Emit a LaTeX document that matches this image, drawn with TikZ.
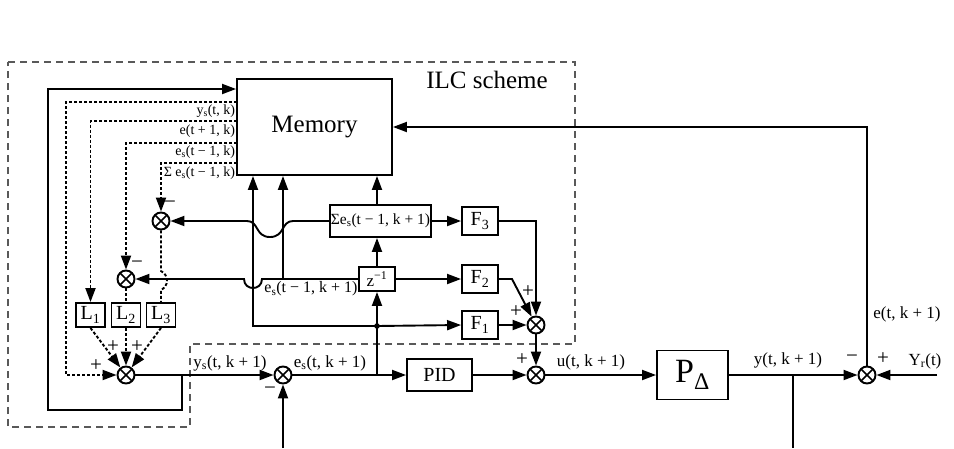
\documentclass[tikz,border=0pt]{standalone}
\usepackage{fontspec}
\setmainfont{Liberation Serif}
\usetikzlibrary{arrows.meta,calc}
\newcommand{\sbs}[1]{\textsubscript{#1}}
\begin{document}
\begin{tikzpicture}[x=1pt,y=-1pt,line width=1.9pt,
  >={Triangle[length=14pt,width=10pt]},
  blk/.style={draw,rectangle,inner sep=0pt,font=\fontsize{20}{20}\selectfont},
  sumn/.style={circle,draw,minimum size=17pt,inner sep=0pt,
    path picture={\draw[line width=1.5pt] (path picture bounding box.south west)--(path picture bounding box.north east)
      (path picture bounding box.north west)--(path picture bounding box.south east);}},
  dsh/.style={dash pattern=on 3pt off 2pt},
  lbl/.style={font=\fontsize{14}{14}\selectfont,inner sep=0pt},
  mlbl/.style={font=\fontsize{17}{17}\selectfont,inner sep=0pt},
  sgn/.style={font=\fontsize{21}{21}\selectfont,inner sep=0pt}]
\useasboundingbox[fill=white] (0,0) rectangle (954,448);
% ILC boundary
\draw[gray!70!black,line width=1.3pt,dash pattern=on 7pt off 5pt]
  (8,62) -- (575,62) -- (575,344) -- (190,344) -- (190,427) -- (8,427) -- cycle;
\node[font=\fontsize{25}{25}\selectfont,inner sep=0pt] (ilc) at (487,80) {ILC scheme};
% blocks
\node[blk,minimum width=155pt,minimum height=96pt,font=\fontsize{25}{25}\selectfont] (mem) at (314.5,127) {Memory};
\node[blk,minimum width=101pt,minimum height=32pt,font=\fontsize{15.5}{15.5}\selectfont] (sig) at (380.5,221) {Σe\sbs{s}(t − 1, k + 1)};
\node[blk,minimum width=36pt,minimum height=24pt,font=\fontsize{17}{17}\selectfont] (z) at (377,279) {z\textsuperscript{−1}};
\node[blk,minimum width=36pt,minimum height=28pt] (F3) at (480,221) {F\sbs{3}};
\node[blk,minimum width=36pt,minimum height=28pt] (F2) at (480,279) {F\sbs{2}};
\node[blk,minimum width=36pt,minimum height=28pt] (F1) at (480,325) {F\sbs{1}};
\node[blk,minimum width=29pt,minimum height=24pt] (L1) at (90.5,315) {L\sbs{1}};
\node[blk,minimum width=29pt,minimum height=24pt] (L2) at (126,315) {L\sbs{2}};
\node[blk,minimum width=29pt,minimum height=24pt] (L3) at (161,315) {L\sbs{3}};
\node[blk,minimum width=65pt,minimum height=32pt,font=\fontsize{20}{20}\selectfont] (PID) at (439.5,375) {PID};
\node[blk,minimum width=71pt,minimum height=49pt,font=\fontsize{34}{34}\selectfont] (P) at (692.5,375) {P\sbs{Δ}};
% sums
\node[sumn] (sL) at (126,375) {};
\node[sumn] (s2) at (126,279) {};
\node[sumn] (s3) at (161,221) {};
\node[sumn] (sy) at (283,375) {};
\node[sumn] (sF) at (536,325) {};
\node[sumn] (su) at (536,375) {};
\node[sumn] (se) at (867,375) {};
% dashed signals from memory
\draw[dsh,->] (237,102) -- (66,102) |- (sL.west);
\draw[dsh,->] (237,121) -| (L1.north);
\draw[dsh,->] (237,143) -| (s2.north);
\draw[dsh,->] (237,163) -| (s3.north);
\draw[dsh] (s2.south) -- (L2.north);
\draw[dsh] (s3.south) -- (161,271) .. controls (169,275) and (169,286) .. (161,290) -- (L3.north);
\draw[dsh,->] (L1.south) -- (sL);
\draw[dsh,->] (L2.south) -- (sL.north);
\draw[dsh,->] (L3.south) -- (sL);
% solid connections
\coordinate (br) at (182,375);
\draw[->] (sL.east) -- (sy.west);
\draw[->] (br) -- (182,410) -- (48,410) -- (48,89) -- (mem.west |- 0,89);
\draw[->] (sy.east) -- (PID.west);
\coordinate (jz) at (377,375);
\coordinate (dot) at (377,326);
\draw[->] (jz) -- (dot) -- (z.south);
\fill (dot) circle (2.8pt);
\draw[->] (dot) -- (F1.west);
\draw[->] (dot) -| (mem.south -| 253,0);
\draw[->] (z.north) -- (sig.south -| z.north);
\draw[->] (sig.north -| z.north) -- (mem.south -| z.north);
\draw[->] (sig.east) -- (F3.west);
\draw[->] (z.east) -- (F2.west);
\draw[->] (F3.east) -| (sF.north);
\draw[->] (F2.east) -- (512,279) -- (sF);
\draw[->] (F1.east) -- (sF.west);
\draw[->] (sF.south) -- (su.north);
\draw[->] (PID.east) -- (su.west);
\draw[->] (su.east) -- (P.west);
\draw[->] (P.east) -- (se.west);
\coordinate (yr) at (937,375);
\draw[->] (yr) -- (se.east);
\draw[->] (se.north) |- (mem.east);
\coordinate (yb) at (793,375);
\coordinate (ybot) at (793,448);
\draw (yb) -- (ybot);
\coordinate (sbot) at (283,448);
\draw[->] (sbot) -- (sy.south);
% hops
\draw[->] (sig.west) -- (293,221) .. controls (281,221) and (285,237) .. (270,237)
  .. controls (255,237) and (259,221) .. (247,221) -- (s3.east);
\draw[->] (z.west) -- (262,279) .. controls (262,291) and (244,291) .. (244,279) -- (s2.east);
\draw[->] (283,279) -- (mem.south -| 283,0);
% labels
\node[lbl,anchor=east] (l1) at (236,111) {y\sbs{s}(t, k)};
\node[lbl,anchor=east] (l2) at (236,131) {e(t + 1, k)};
\node[lbl,anchor=east] (l3) at (236,152) {e\sbs{s}(t − 1, k)};
\node[lbl,anchor=east] (l4) at (236,173) {Σ e\sbs{s}(t − 1, k)};
\node[mlbl] (l5) at (230,363) {y\sbs{s}(t, k + 1)};
\node[mlbl] (l6) at (330,363) {e\sbs{s}(t, k + 1)};
\node[lbl,font=\fontsize{16}{16}\selectfont] (l7) at (311,289) {e\sbs{s}(t − 1, k + 1)};
\node[mlbl] (l8) at (591,362) {u(t, k + 1)};
\node[mlbl] (l9) at (788,360) {y(t, k + 1)};
\node[mlbl] (l10) at (907,314) {e(t, k + 1)};
\node[mlbl] (l11) at (925,361) {Y\sbs{r}(t)};
% signs
\node[sgn] (g1) at (852,359) {−};
\node[sgn] (g2) at (883,359) {+};
\node[sgn] (g3) at (270,391) {−};
\node[sgn] (g4) at (522,360) {+};
\node[sgn] (g5) at (516,312) {+};
\node[sgn] (g6) at (528,292) {+};
\node[sgn] (g7) at (96,366) {+};
\node[sgn] (g8) at (113,347) {+};
\node[sgn] (g9) at (137,347) {+};
\node[sgn] (g10) at (137,265) {−};
\node[sgn] (g11) at (170,205) {−};
\end{tikzpicture}
\end{document}
